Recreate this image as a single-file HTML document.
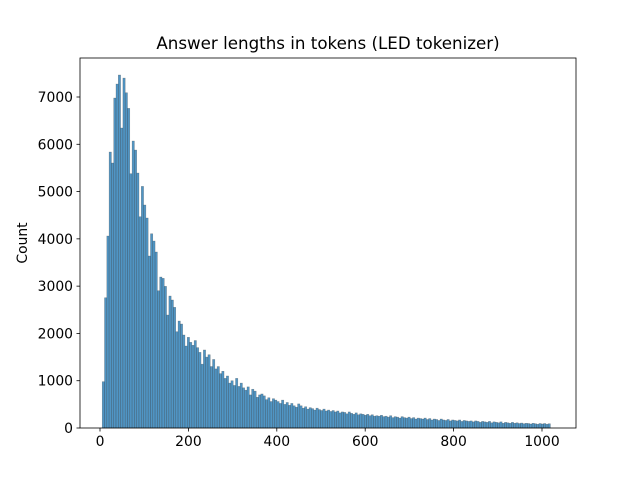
<!DOCTYPE html>
<html><head><meta charset="utf-8"><style>
body{margin:0;background:#fff}
svg text{font-family:"DejaVu Sans","Liberation Sans",sans-serif;fill:#000}
</style></head><body>
<svg id="chart" width="640" height="480" xmlns="http://www.w3.org/2000/svg">
<rect width="640" height="480" fill="#fff"/>
<text x="328" y="49" font-size="16.7" text-anchor="middle">Answer lengths in tokens (LED tokenizer)</text>
<text transform="translate(27,243) rotate(-90)" font-size="13.9" text-anchor="middle">Count</text>
<g id="bars"></g>
<g id="axes"></g>
</svg>
<script>
const binStart = 5;
const binWidth = 5.2;
const counts = [980,2755,4060,5836,5604,6978,7274,7465,6344,7400,7090,6760,5378,6069,5878,5392,4468,5110,4716,4441,3637,4108,3954,3722,2903,3193,3165,2996,2389,2791,2707,2552,2037,2262,2199,1967,1734,1918,1812,
1750,1850,1700,1600,1350,1650,1500,1550,1300,1450,1250,1300,1150,1200,1050,1100,950,1000,900,1050,
880,950,850,800,870,700,820,780,650,700,720,680,600,640,560,620,590,560,520,590,
500,540,480,520,470,440,510,470,420,450,400,430,410,380,420,390,370,400,360,380,
350,370,340,360,320,340,330,300,340,310,290,320,280,300,290,270,290,260,280,250,
260,250,270,240,250,230,260,220,240,230,210,240,220,210,230,200,220,190,210,200,
190,210,180,200,170,190,180,160,190,170,160,180,150,170,160,150,170,140,160,150,
140,150,130,150,140,120,140,130,120,140,110,130,120,110,130,100,120,110,100,120,
100,110,95,105,90,100,95,85,100,90,80,95,85,95,80,90];
const xTicks = [0,200,400,600,800,1000];
const yTicks = [0,1000,2000,3000,4000,5000,6000,7000];
const X0=80,X1=576,Y0=58,Y1=428;
const xs = v => 100 + v*0.442;
const ys = v => 428 - v*(331/7000);
const NS="http://www.w3.org/2000/svg";
const bars=document.getElementById('bars'), axes=document.getElementById('axes');
counts.forEach((c,i)=>{
  const r=document.createElementNS(NS,'rect');
  const a=xs(binStart+i*binWidth), b=xs(binStart+(i+1)*binWidth);
  r.setAttribute('x',a);r.setAttribute('width',b-a);
  r.setAttribute('y',ys(c));r.setAttribute('height',ys(0)-ys(c));
  r.setAttribute('fill','rgba(31,119,180,0.78)');r.setAttribute('stroke','rgba(60,60,60,0.45)');r.setAttribute('stroke-width','0.5');
  
  
  bars.appendChild(r);
});
const frame=document.createElementNS(NS,'rect');
frame.setAttribute('x',X0);frame.setAttribute('y',Y0);frame.setAttribute('width',X1-X0);frame.setAttribute('height',Y1-Y0);
frame.setAttribute('fill','none');frame.setAttribute('stroke','#000');frame.setAttribute('stroke-width','0.8');


axes.appendChild(frame);
xTicks.forEach(t=>{
  const x=xs(t);
  const l=document.createElementNS(NS,'line');
  l.setAttribute('x1',x);l.setAttribute('x2',x);l.setAttribute('y1',Y1);l.setAttribute('y2',Y1+3.5);l.setAttribute('stroke','#000');l.setAttribute('stroke-width','0.8');
  
  
  axes.appendChild(l);
  const tx=document.createElementNS(NS,'text');
  tx.setAttribute('x',x);tx.setAttribute('y',Y1+18);tx.setAttribute('font-size','13.9');tx.setAttribute('text-anchor','middle');tx.textContent=t;
  
  
  axes.appendChild(tx);
});
yTicks.forEach(t=>{
  const y=ys(t);
  const l=document.createElementNS(NS,'line');
  l.setAttribute('x1',X0-3.5);l.setAttribute('x2',X0);l.setAttribute('y1',y);l.setAttribute('y2',y);l.setAttribute('stroke','#000');l.setAttribute('stroke-width','0.8');
  
  
  axes.appendChild(l);
  const tx=document.createElementNS(NS,'text');
  tx.setAttribute('x',X0-7);tx.setAttribute('y',y+5);tx.setAttribute('font-size','13.9');tx.setAttribute('text-anchor','end');tx.textContent=t;
  
  
  axes.appendChild(tx);
});
</script>
</body></html>
